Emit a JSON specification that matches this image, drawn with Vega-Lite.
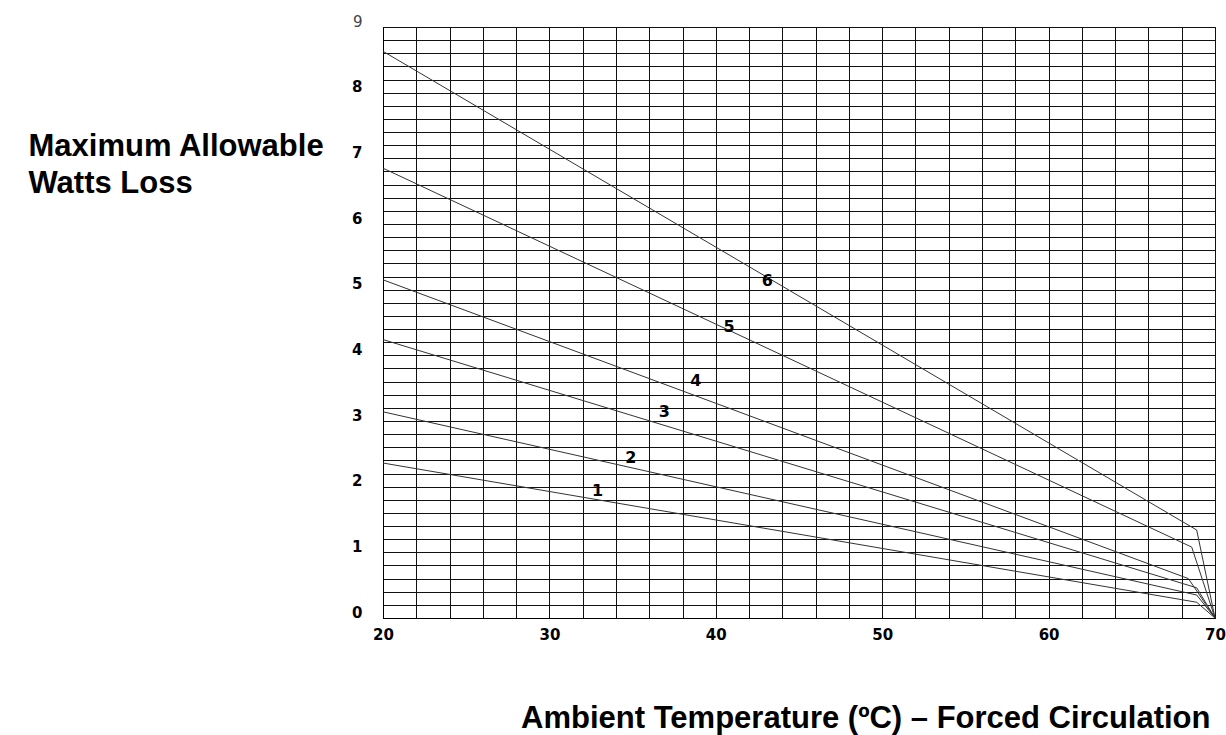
{
  "$schema": "https://vega.github.io/schema/vega-lite/v6.json",
  "width": 832,
  "height": 591,
  "autosize": {"type": "none"},
  "padding": {"left": 383, "top": 27, "right": 11, "bottom": 117},
  "background": "white",
  "config": {
    "view": {"stroke": "#000", "strokeWidth": 1},
    "font": "Liberation Sans"
  },
  "datasets": {
    "curves": [
      {"curve": "1", "temp": 20, "watts": 2.36},
      {"curve": "1", "temp": 68.9, "watts": 0.24},
      {"curve": "1", "temp": 70, "watts": 0},
      {"curve": "2", "temp": 20, "watts": 3.14},
      {"curve": "2", "temp": 68.9, "watts": 0.35},
      {"curve": "2", "temp": 70, "watts": 0},
      {"curve": "3", "temp": 20, "watts": 4.24},
      {"curve": "3", "temp": 68.9, "watts": 0.46},
      {"curve": "3", "temp": 70, "watts": 0},
      {"curve": "4", "temp": 20, "watts": 5.15},
      {"curve": "4", "temp": 68.4, "watts": 0.6},
      {"curve": "4", "temp": 70, "watts": 0},
      {"curve": "5", "temp": 20, "watts": 6.85},
      {"curve": "5", "temp": 68.6, "watts": 1.08},
      {"curve": "5", "temp": 70, "watts": 0},
      {"curve": "6", "temp": 20, "watts": 8.63},
      {"curve": "6", "temp": 68.9, "watts": 1.34},
      {"curve": "6", "temp": 70, "watts": 0}
    ],
    "labels": [
      {"curve": "1", "temp": 32.9, "watts": 1.93},
      {"curve": "2", "temp": 34.9, "watts": 2.44},
      {"curve": "3", "temp": 36.9, "watts": 3.14},
      {"curve": "4", "temp": 38.8, "watts": 3.61},
      {"curve": "5", "temp": 40.8, "watts": 4.43},
      {"curve": "6", "temp": 43.1, "watts": 5.13}
    ]
  },
  "encoding": {
    "x": {
      "field": "temp",
      "type": "quantitative",
      "scale": {"domain": [20, 70], "nice": false, "zero": false},
      "axis": {
        "values": [20,22,24,26,28,30,32,34,36,38,40,42,44,46,48,50,52,54,56,58,60,62,64,66,68,70],
        "format": "d",
        "labelExpr": "datum.value % 10 == 0 ? datum.label : ''",
        "labelOverlap": false,
        "labelBound": false,
        "labelFlush": false,
        "grid": true,
        "gridColor": "#111",
        "gridOpacity": 1,
        "gridWidth": 1,
        "ticks": false,
        "domainColor": "#000",
        "labelFont": "DejaVu Sans",
        "labelFontWeight": "bold",
        "labelFontSize": 15,
        "labelColor": "#000",
        "labelPadding": 9,
        "title": "Ambient Temperature (ºC) – Forced Circulation",
        "titleFont": "Liberation Sans",
        "titleFontWeight": "bold",
        "titleFontSize": 31,
        "titleColor": "#000",
        "titleAlign": "right",
        "titleAnchor": null,
        "titleX": 827,
        "titleY": 109,
        "titleBaseline": "alphabetic"
      }
    },
    "y": {
      "field": "watts",
      "type": "quantitative",
      "scale": {"domain": [0, 9], "nice": false},
      "axis": {
        "values": [0,0.2,0.4,0.6,0.8,1,1.2,1.4,1.6,1.8,2,2.2,2.4,2.6,2.8,3,3.2,3.4,3.6,3.8,4,4.2,4.4,4.6,4.8,5,5.2,5.4,5.6,5.8,6,6.2,6.4,6.6,6.8,7,7.2,7.4,7.6,7.8,8,8.2,8.4,8.6,8.8,9],
        "labelExpr": "datum.value % 1 == 0 ? format(datum.value, 'd') : ''",
        "labelOverlap": false,
        "labelBound": false,
        "labelFlush": false,
        "grid": true,
        "gridColor": "#111",
        "gridOpacity": 1,
        "gridWidth": 1,
        "ticks": false,
        "domainColor": "#000",
        "labelFont": "DejaVu Sans",
        "labelFontWeight": {"condition": {"test": "datum.value == 9", "value": "normal"}, "value": "bold"},
        "labelColor": {"condition": {"test": "datum.value == 9", "value": "#444"}, "value": "#000"},
        "labelFontSize": 15,
        "labelPadding": 21,
        "labelOffset": -6,
        "title": ["Maximum Allowable", "Watts Loss"],
        "titleFont": "Liberation Sans",
        "titleFontWeight": "bold",
        "titleFontSize": 31,
        "titleColor": "#000",
        "titleAngle": 0,
        "titleAlign": "left",
        "titleAnchor": null,
        "titleBaseline": "alphabetic",
        "titleLineHeight": 37,
        "titleX": -355,
        "titleY": 128
      }
    }
  },
  "layer": [
    {
      "data": {"name": "curves"},
      "mark": {"type": "line", "stroke": "#333", "strokeWidth": 1},
      "encoding": {
        "detail": {"field": "curve", "type": "nominal"}
      }
    },
    {
      "data": {"name": "labels"},
      "mark": {"type": "text", "font": "DejaVu Sans", "fontWeight": "bold", "fontSize": 16, "color": "#000", "align": "center", "baseline": "middle"},
      "encoding": {
        "text": {"field": "curve", "type": "nominal"}
      }
    }
  ]
}
